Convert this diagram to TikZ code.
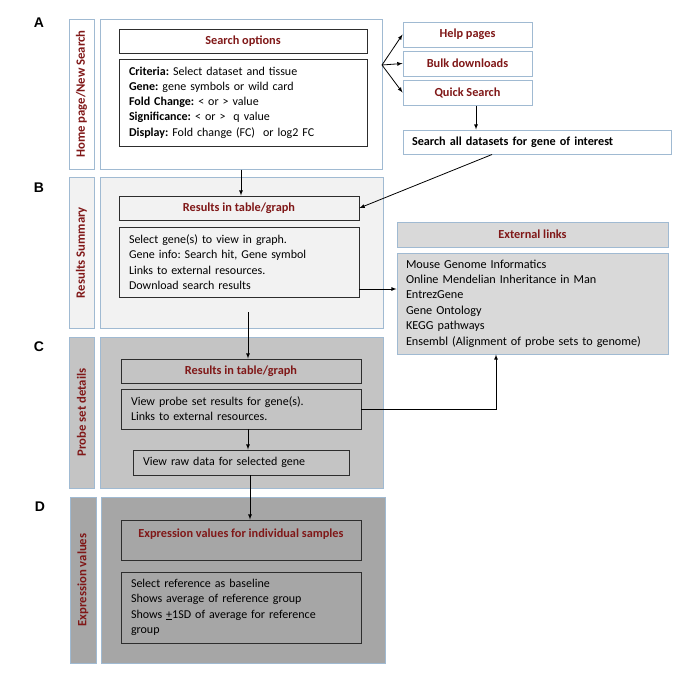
\documentclass[tikz,border=0pt]{standalone}
\usepackage{fontspec}
\setmainfont{Carlito}
\newfontfamily\lettrefont{Liberation Sans}
\frenchspacing
\usetikzlibrary{shapes,arrows}
\definecolor{bordbleu}{RGB}{160,186,210}
\definecolor{rougetitre}{RGB}{128,24,24}
\definecolor{bordnoir}{RGB}{45,45,45}
\definecolor{grisB}{RGB}{242,242,242}
\definecolor{grisC}{RGB}{196,196,196}
\definecolor{grisD}{RGB}{166,166,166}
\definecolor{grisext}{RGB}{217,217,217}

\begin{document}
\begin{tikzpicture}[x=1pt,y=-1pt]
 % cadre
  \useasboundingbox (0,0) rectangle (685,675);
 % style des noeuds
  \tikzstyle{panneau}=[rectangle,draw=bordbleu,line width=1pt,inner sep=0pt]
  \tikzstyle{bande}=[panneau,rotate=90,minimum height=25pt,text=rougetitre,font=\fontsize{12.7}{15}\selectfont\bfseries]
  \tikzstyle{titre}=[rectangle,draw=bordnoir,line width=0.9pt,minimum height=24pt,inner sep=0pt,text=rougetitre,font=\fontsize{12.3}{14}\selectfont\bfseries]
  \tikzstyle{texte}=[rectangle,draw=bordnoir,line width=0.9pt,inner xsep=10pt,inner ysep=0pt,align=left,font=\fontsize{12}{15.3}\selectfont]
  \tikzstyle{lien}=[rectangle,draw=bordbleu,line width=1pt,fill=white,inner sep=0pt,minimum width=129pt,minimum height=25pt,text=rougetitre,font=\fontsize{12.3}{14}\selectfont\bfseries]
  \tikzstyle{externe}=[rectangle,draw=bordbleu,line width=1pt,fill=grisext,inner sep=0pt,minimum width=271pt]
  \tikzstyle{lettre}=[font=\lettrefont\fontsize{14}{16}\selectfont\bfseries]
 % style des fleches
  \tikzstyle{suite}=[->,>=latex,line width=0.8pt]
 % panneaux A a D
  \node[panneau,fill=white,minimum width=282pt,minimum height=150pt] (panA) at (241,94) {};
  \node[bande,fill=white,minimum width=150pt] (bandeA) at (81.5,94) {Home page/New Search};
  \node[panneau,fill=grisB,minimum width=283pt,minimum height=151pt] (panB) at (241.5,252.5) {};
  \node[bande,fill=grisB,minimum width=151pt] (bandeB) at (81.5,252.5) {Results Summary};
  \node[panneau,fill=grisC,minimum width=283pt,minimum height=151pt] (panC) at (241.5,412.5) {};
  \node[bande,fill=grisC,minimum width=151pt] (bandeC) at (81.5,412.5) {Probe set details};
  \node[panneau,fill=grisD,minimum width=284pt,minimum height=166pt] (panD) at (243,580) {};
  \node[bande,fill=grisD,minimum width=166pt,minimum height=26pt] (bandeD) at (83,580) {Expression values};
 % lettres
  \node[lettre] (lA) at (39,23) {A};
  \node[lettre] (lB) at (39,188) {B};
  \node[lettre] (lC) at (39,347) {C};
  \node[lettre] (lD) at (40,507) {D};
 % placement des noeuds
  \node[titre,minimum width=248pt] (options) at (243,41) {Search options};
  \node[texte,text width=228pt,minimum height=87pt] (criteres) at (243,102.5) {\textbf{Criteria:} Select dataset and tissue\\ \textbf{Gene:} gene symbols or wild card\\ \textbf{Fold Change:} < or > value\\ \textbf{Significance:} < or >\ \ q value\\ \textbf{Display:} Fold change (FC)\ \ or log2 FC};
  \node[titre,minimum width=240pt] (resB) at (239,208) {Results in table/graph};
  \node[texte,text width=220pt,minimum height=70pt] (infoB) at (239,262) {Select gene(s) to view in graph.\\ Gene info: Search hit, Gene symbol\\ Links to external resources.\\ Download search results};
  \node[titre,minimum width=240pt] (resC) at (241,371) {Results in table/graph};
  \node[texte,text width=220pt,minimum height=40pt] (sonde) at (241,409) {View probe set results for gene(s).\\ Links to external resources.};
  \node[texte,text width=196pt,minimum height=25pt] (brut) at (241,462.5) {View raw data for selected gene};
  \node[titre,minimum width=240pt,minimum height=40pt,text height=13pt,text depth=19pt] (expr) at (241,540) {Expression values for individual samples};
  \node[texte,text width=220pt,minimum height=71pt] (refer) at (241,607.5) {Select reference as baseline\\ Shows average of reference group\\ Shows \underline{+}1SD of average for reference\\ group};
  \node[lien] (aide) at (467.5,34.5) {Help pages};
  \node[lien] (masse) at (467.5,63.5) {Bulk downloads};
  \node[lien] (rapide) at (467.5,92.5) {Quick Search};
  \node[rectangle,draw=bordbleu,line width=1pt,fill=white,inner xsep=9pt,inner ysep=0pt,text width=250pt,minimum height=24pt,font=\fontsize{12.2}{14}\selectfont\bfseries] (tous) at (537,142) {Search all datasets for gene of interest};
  \node[externe,minimum height=25pt,text=rougetitre,font=\fontsize{12.3}{14}\selectfont\bfseries] (extT) at (532.5,234.5) {External links};
  \node[externe,inner xsep=9pt,text width=253pt,align=left,minimum height=101pt,font=\fontsize{12.2}{15.4}\selectfont] (extB) at (532.5,303.5) {Mouse Genome Informatics\\ Online Mendelian Inheritance in Man\\ EntrezGene\\ Gene Ontology\\ KEGG pathways\\ Ensembl (Alignment of probe sets to genome)};
 % points de depart
  \coordinate (fourche) at (382,65);
  \coordinate (depB) at (248,312);
 % placement des fleches
  \draw[suite] (fourche) -- (aide.west);
  \draw[suite] (fourche) -- (masse.west);
  \draw[suite] (fourche) -- (rapide.west);
  \draw[suite] ([xshift=8.5pt]rapide.south) -- ([xshift=8.5pt]rapide.south |- tous.north);
  \draw[suite] ([xshift=-45pt]tous.south) -- (resB.east);
  \draw[suite] (panA.south) -- (panA.south |- resB.north);
  \draw[suite] ([yshift=-27pt]infoB.east) -- ([yshift=-27pt]infoB.east -| extB.west);
  \draw[suite] (depB) -- (depB |- resC.north);
  \draw[suite] (sonde.east) -| ([xshift=-36.5pt]extB.south);
  \draw[suite] ([xshift=7pt]sonde.south) -- ([xshift=7pt]brut.north);
  \draw[suite] ([xshift=9pt]brut.south) -- ([xshift=9pt]expr.north);
\end{tikzpicture}
\end{document}
